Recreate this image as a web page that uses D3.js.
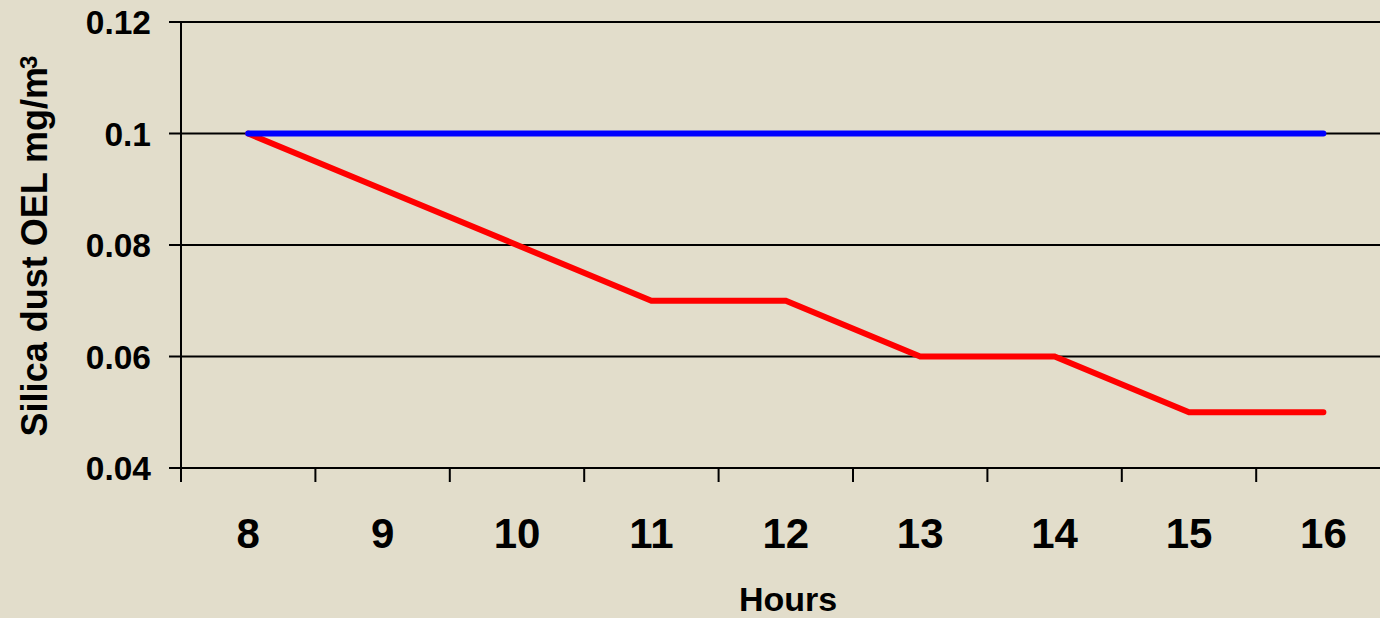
<!DOCTYPE html>
<html>
<head>
<meta charset="utf-8">
<script src="https://cdn.jsdelivr.net/npm/d3@7"></script>
<style>
  html, body { margin: 0; padding: 0; background: #E2DDCB; overflow: hidden; }
  svg { display: block; }
  text { font-family: "Liberation Sans", Arial, sans-serif; font-weight: bold; fill: #000; }
</style>
</head>
<body>
<svg id="chart" width="1380" height="618"></svg>
<script>
const hours = ["8", "9", "10", "11", "12", "13", "14", "15", "16"];
const oelLimit = [0.1, 0.1, 0.1, 0.1, 0.1, 0.1, 0.1, 0.1, 0.1];
const adjustedOel = [0.1, 0.09, 0.08, 0.07, 0.07, 0.06, 0.06, 0.05, 0.05];
const yTicks = [0.04, 0.06, 0.08, 0.1, 0.12];
const yTickLabels = ["0.04", "0.06", "0.08", "0.1", "0.12"];

(function () {
const svg = d3.select("#chart");
const plotLeft = 181, plotTop = 22, plotBottom = 468;
const bandW = 134.4;
const x = d3.scaleBand().domain(hours).range([plotLeft, plotLeft + bandW * hours.length]).paddingInner(0).paddingOuter(0);
const y = d3.scaleLinear().domain([0.04, 0.12]).range([plotBottom, plotTop]);

// gridlines
svg.append("g").selectAll("line").data(yTicks).join("line")
  .attr("x1", plotLeft - 12).attr("x2", 1380)
  .attr("y1", d => y(d)).attr("y2", d => y(d))
  .attr("stroke", "#000").attr("stroke-width", 2);

// y axis line
svg.append("line").attr("x1", plotLeft).attr("x2", plotLeft).attr("y1", plotTop).attr("y2", plotBottom)
  .attr("stroke", "#000").attr("stroke-width", 2);

// y tick labels
svg.append("g").selectAll("text").data(yTicks).join("text")
  .attr("x", 151).attr("y", d => y(d)).attr("dy", "0.36em")
  .attr("text-anchor", "end").style("font-size", "33.5px")
  .text((d, i) => yTickLabels[i]);

// x tick marks at band boundaries
const bounds = hours.map(h => x(h));
svg.append("g").selectAll("line").data(bounds).join("line")
  .attr("x1", d => d).attr("x2", d => d).attr("y1", plotBottom).attr("y2", plotBottom + 14)
  .attr("stroke", "#000").attr("stroke-width", 2);

// x labels
svg.append("g").selectAll("text").data(hours).join("text")
  .attr("x", d => x(d) + x.bandwidth() / 2).attr("y", 548)
  .attr("text-anchor", "middle").style("font-size", "42px")
  .text(d => d);

// lines
const line = d3.line().x((d, i) => x(hours[i]) + x.bandwidth() / 2).y(d => y(d));
svg.append("path").datum(adjustedOel).attr("d", line)
  .attr("fill", "none").attr("stroke", "#FF0000").attr("stroke-width", 6)
  .attr("stroke-linecap", "round").attr("stroke-linejoin", "miter");
svg.append("path").datum(oelLimit).attr("d", line)
  .attr("fill", "none").attr("stroke", "#0000FF").attr("stroke-width", 6)
  .attr("stroke-linecap", "round").attr("stroke-linejoin", "miter");

// x axis title
svg.append("text").attr("x", 788).attr("y", 611).attr("text-anchor", "middle")
  .style("font-size", "34px").text("Hours");

// y axis title
const yt = svg.append("text").attr("transform", "translate(47,246) rotate(-90)")
  .attr("text-anchor", "middle").style("font-size", "36px");
yt.append("tspan").text("Silica dust OEL mg/m");
yt.append("tspan").attr("dx", "-2").attr("dy", "-0.4em").style("font-size", "24px").text("3");
})();
</script>
</body>
</html>
